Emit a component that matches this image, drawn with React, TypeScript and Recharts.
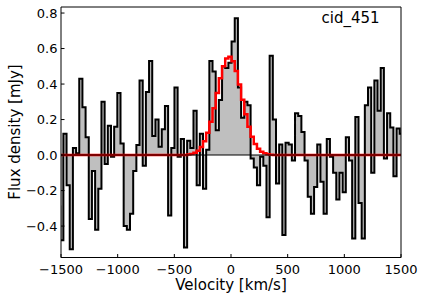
import React from 'react';
import { ComposedChart, Area, Line, XAxis, YAxis, ReferenceLine } from 'recharts';

// Velocity grid of the spectrum (channel left edges, km/s)
const VELOCITY_START = -1535;
const CHANNEL_WIDTH = 28;

// Observed flux density per channel [mJy]
const FLUX = [
  -0.29, -0.48, 0.12, -0.17, -0.53, 0.04, 0.01, 0.43, 0.27, 0.10,
  -0.36, -0.09, -0.42, -0.19, 0.30, -0.05, 0.165, -0.01, 0.16, 0.35,
  0.065, -0.40, -0.42, -0.33, -0.09, 0.056, 0.42, -0.06, 0.355, 0.53,
  0.107, 0.20, 0.047, 0.146, 0.276, -0.34, 0.04, 0.38, -0.01, 0.09,
  -0.52, 0.08, 0.04, 0.25, -0.17, 0.12, -0.19, 0.03, 0.53, 0.47,
  0.14, 0.31, 0.50, 0.49, 0.52, 0.64, 0.77, 0.38, 0.21, 0.30,
  0.28, -0.02, -0.07, -0.17, -0.01, -0.06, -0.35, 0.56, 0.20, -0.16,
  0.06, -0.45, 0.07, 0.06, -0.03, 0.235, 0.22, 0.13, -0.03, -0.235,
  -0.33, -0.18, 0.06, -0.15, -0.33, 0.09, -0.01, -0.10, -0.25, -0.10,
  -0.21, 0.10, -0.03, -0.47, 0.215, -0.27, -0.47, 0.28, 0.38, -0.10,
  0.42, 0.25, 0.49, -0.02, 0.235, 0.155, -0.12, 0.15, 0.12,
];

// Gaussian line model per channel [mJy]
const MODEL = [
  0, 0, 0, 0, 0, 0, 0, 0, 0, 0,
  0, 0, 0, 0, 0, 0, 0, 0, 0, 0,
  0, 0, 0, 0, 0, 0, 0, 0, 0, 0,
  0, 0, 0, 0, 0, 0, 0, 0, 0, 0,
  0, 0.003, 0.006, 0.013, 0.025, 0.046, 0.078, 0.125, 0.188, 0.264,
  0.349, 0.432, 0.50, 0.544, 0.554, 0.529, 0.473, 0.397, 0.312, 0.23,
  0.159, 0.103, 0.062, 0.035, 0.019, 0.01, 0.004, 0.002, 0, 0,
  0, 0, 0, 0, 0, 0, 0, 0, 0, 0,
  0, 0, 0, 0, 0, 0, 0, 0, 0, 0,
  0, 0, 0, 0, 0, 0, 0, 0, 0, 0,
  0, 0, 0, 0, 0, 0, 0, 0, 0,
];

const X_TICKS = [-1500, -1000, -500, 0, 500, 1000, 1500];
const Y_TICKS = [-0.4, -0.2, 0.0, 0.2, 0.4, 0.6, 0.8];
const X_DOMAIN = [-1500, 1500];
const Y_DOMAIN = [-0.577, 0.834];
const TITLE = 'cid_451';
const X_LABEL = 'Velocity [km/s]';
const Y_LABEL = 'Flux density [mJy]';

const data = FLUX.map((f, i) => ({
  v: VELOCITY_START + i * CHANNEL_WIDTH,
  flux: f,
  model: MODEL[i],
}));
data.push({
  v: VELOCITY_START + FLUX.length * CHANNEL_WIDTH,
  flux: FLUX[FLUX.length - 1],
  model: MODEL[MODEL.length - 1],
});

const FONT = '"DejaVu Sans", sans-serif';
const fmtMinus = (s: string) => s.replace('-', '\u2212');

const XTick = (props: any) => {
  const { x, y, payload } = props;
  const label = fmtMinus(String(payload.value));
  return (
    <g>
      <line x1={x} y1={y} x2={x} y2={y - 3.5} stroke="#000" strokeWidth={1} />
      <text x={x} y={y + 16.5} textAnchor="middle" fontSize={13} fontFamily={FONT} fill="#000">
        {label}
      </text>
    </g>
  );
};

const YTick = (props: any) => {
  const { x, y, payload } = props;
  const v = Number(payload.value);
  const label = fmtMinus((Math.abs(v) < 1e-9 ? 0 : v).toFixed(1));
  return (
    <g>
      <line x1={x} y1={y} x2={x + 3.5} y2={y} stroke="#000" strokeWidth={1} />
      <text x={x - 3.5} y={y + 4.7} textAnchor="end" fontSize={13} fontFamily={FONT} fill="#000">
        {label}
      </text>
    </g>
  );
};

export default function App() {
  return (
    <div style={{ position: 'absolute', left: 0, top: 0, width: 425, height: 302, background: '#fff' }}>
      <ComposedChart
        width={425}
        height={302}
        data={data}
        margin={{ top: 7, right: 24, bottom: 0, left: 0 }}
      >
        <XAxis
          dataKey="v"
          type="number"
          domain={X_DOMAIN}
          ticks={X_TICKS}
          interval={0}
          allowDataOverflow
          height={44.5}
          tickSize={0}
          tickMargin={0}
          tickLine={false}
          axisLine={{ stroke: '#000', strokeWidth: 1 }}
          tick={<XTick />}
        />
        <YAxis
          type="number"
          domain={Y_DOMAIN}
          ticks={Y_TICKS}
          interval={0}
          allowDataOverflow
          width={61}
          tickSize={0}
          tickMargin={0}
          tickLine={false}
          axisLine={{ stroke: '#000', strokeWidth: 1 }}
          tick={<YTick />}
        />
        <Area
          dataKey="flux"
          type="stepAfter"
          baseValue={0}
          fill="#bfbfbf"
          fillOpacity={1}
          stroke="#000"
          strokeWidth={2}
          dot={false}
          activeDot={false}
          isAnimationActive={false}
        />
        <Line
          dataKey="model"
          type="stepAfter"
          stroke="#ff0000"
          strokeWidth={2.5}
          dot={false}
          activeDot={false}
          isAnimationActive={false}
        />
        <ReferenceLine y={0} stroke="#000" strokeOpacity={0.5} strokeWidth={2} />
        <ReferenceLine x={X_DOMAIN[1]} stroke="#000" strokeWidth={1} />
        <ReferenceLine y={Y_DOMAIN[1]} stroke="#000" strokeWidth={1} />
      </ComposedChart>
      <svg
        width={425}
        height={302}
        style={{ position: 'absolute', left: 0, top: 0, pointerEvents: 'none' }}
      >
        <text x={321.5} y={23} fontSize={15} fontFamily={FONT} fill="#000">
          {TITLE}
        </text>
        <text x={231} y={290} textAnchor="middle" fontSize={15} fontFamily={FONT} fill="#000">
          {X_LABEL}
        </text>
        <text
          x={20}
          y={132}
          transform="rotate(-90 20 132)"
          textAnchor="middle"
          fontSize={15}
          fontFamily={FONT}
          fill="#000"
        >
          {Y_LABEL}
        </text>
      </svg>
    </div>
  );
}
